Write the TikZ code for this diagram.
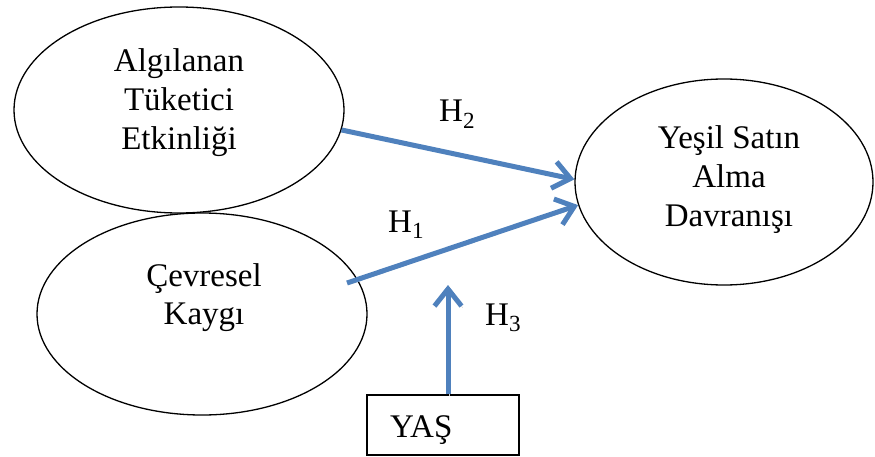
\documentclass[tikz,border=0pt]{standalone}
\usepackage{fontspec}
\setmainfont{Liberation Serif}
\usetikzlibrary{shapes.geometric,arrows.meta,calc}
\definecolor{arrowblue}{RGB}{79,129,189}
\begin{document}
\begin{tikzpicture}[x=1pt,y=-1pt,
  bubble/.style={ellipse,draw=black,line width=1.3pt,inner sep=0pt},
  bubbletext/.style={inner sep=0pt,align=center,font=\fontsize{33}{39}\selectfont},
  linkarrow/.style={draw=arrowblue,line width=5pt,-{Straight Barb[length=17pt,width=27pt]},
    preaction={draw=black!18,transform canvas={shift={(1.2pt,-1.8pt)}}}},
  lbl/.style={anchor=base west,inner sep=0pt,font=\fontsize{33}{39}\selectfont},
  agebox/.style={draw=black,line width=1.3pt,minimum height=60pt,text width=106pt,
    inner xsep=23pt,inner ysep=0pt,align=left,text height=24pt,text depth=0pt,
    font=\fontsize{33}{39}\selectfont}]
\useasboundingbox (0,0) rectangle (875,457);

% ellipses
\node[bubble,minimum width=330,minimum height=206] (alg) at (179,110) {};
\node[bubble,minimum width=330,minimum height=202] (cevre) at (202,314) {};
\node[bubble,minimum width=298,minimum height=206] (yesil) at (724,182) {};

% texts inside the ellipses
\node[bubbletext] (algtext) at (179,103) {Algılanan\\Tüketici\\Etkinliği};
\node[bubbletext,font=\fontsize{33}{38}\selectfont] (cevretext) at (204,298) {Çevresel\\Kaygı};
\node[bubbletext] (yesiltext) at (729,180) {Yeşil Satın\\Alma\\Davranışı};

% age box
\node[agebox] (yas) at (443,425) {YAŞ};

% connectors
\coordinate (h3tip) at (448,285);
\draw[linkarrow] (alg.-7) -- (yesil.179);
\draw[linkarrow] ([shift={(145,-31)}]cevre.center) -- (yesil.189);
\draw[linkarrow] ([xshift=5pt]yas.north) -- (h3tip);

% hypothesis labels
\node[lbl] (h2) at (439,122) {H\textsubscript{2}};
\node[lbl] (h1) at (388,232) {H\textsubscript{1}};
\node[lbl] (h3) at (485,325) {H\textsubscript{3}};
\end{tikzpicture}
\end{document}
